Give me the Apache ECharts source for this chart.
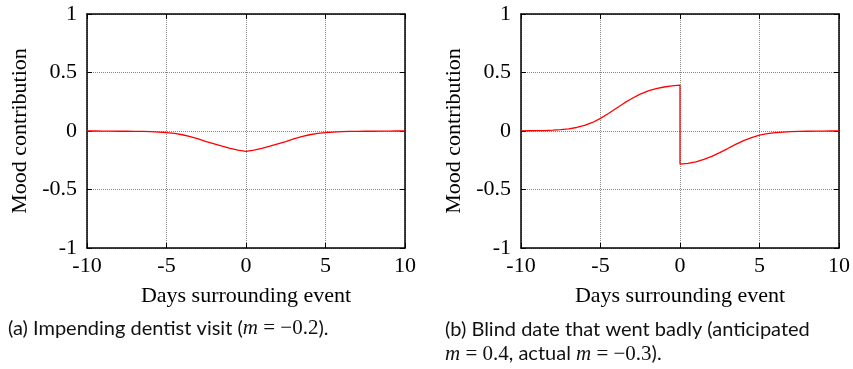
<!DOCTYPE html>
<html>

<head>
	<meta charset="UTF-8">
	<title></title>
	<style>
		body {
			margin: 0;
			background: #fff;
		}
		#chart {
			width: 853px;
			height: 369px;
		}
	</style>
	<script src="https://cdn.jsdelivr.net/npm/echarts@6/dist/echarts.min.js"></script>
</head>

<body>
	<div id="chart"></div>
	<script>
		var myChart = echarts.init(document.getElementById('chart'));

		// (a) dentist visit, m = -0.2
		var dentistX = [-10, -9.5, -9, -8.5, -8, -7.5, -7, -6.5, -6, -5.5, -5, -4.5, -4, -3.5, -3, -2.5, -2, -1.5, -1, -0.5,
			0, 0.5, 1, 1.5, 2, 2.5, 3, 3.5, 4, 4.5, 5, 5.5, 6, 6.5, 7, 7.5, 8, 8.5, 9, 9.5, 10];
		var dentistY = [0, 0, -0.001, -0.001, -0.002, -0.002, -0.003, -0.004, -0.006, -0.009, -0.013, -0.021, -0.032, -0.048, -0.068, -0.09, -0.11, -0.13, -0.148, -0.163,
			-0.175, -0.163, -0.148, -0.13, -0.11, -0.09, -0.068, -0.048, -0.032, -0.021, -0.013, -0.009, -0.006, -0.004, -0.003, -0.002, -0.002, -0.001, -0.001, 0, 0];

		// (b) blind date, anticipated 0.4, actual -0.3 (two points at day 0 for the drop)
		var dateX = [-10, -9.5, -9, -8.5, -8, -7.5, -7, -6.5, -6, -5.5, -5, -4.5, -4, -3.5, -3, -2.5, -2, -1.5, -1, -0.5,
			0, 0, 0.5, 1, 1.5, 2, 2.5, 3, 3.5, 4, 4.5, 5, 5.5, 6, 6.5, 7, 7.5, 8, 8.5, 9, 9.5, 10];
		var dateY = [0.001, 0.002, 0.003, 0.004, 0.007, 0.012, 0.019, 0.03, 0.048, 0.073, 0.108, 0.15, 0.195, 0.24, 0.28, 0.315, 0.343, 0.362, 0.376, 0.386,
			0.392, -0.284, -0.276, -0.263, -0.243, -0.217, -0.185, -0.15, -0.114, -0.082, -0.056, -0.036, -0.023, -0.014, -0.009, -0.005, -0.003, -0.002, -0.001, -0.001, 0, 0];

		var xTicks = { min: -10, max: 10, interval: 5 };
		var yTicks = { min: -1, max: 1, interval: 0.5 };

		var xName = 'Days surrounding event';
		var yName = 'Mood contribution';

		function pairs(xs, ys) {
			return xs.map(function (x, i) { return [x, ys[i]]; });
		}

		var serif = 'Liberation Serif';
		var black = { color: '#000', width: 1.5 };

		var option = {
			animation: false,
			grid: [
				{ left: 87, top: 14, width: 318, height: 234 },
				{ left: 521, top: 14, width: 318, height: 234 }
			],
			xAxis: [],
			yAxis: [],
			series: [],
			graphic: [
				{
					type: 'text', left: 8, top: 318,
					style: {
						text: '(a) Impending dentist visit ({m|m}{s| = −0.2}).',
						fontFamily: 'Lato', fontSize: 20, fill: '#111',
						rich: {
							m: { fontFamily: serif, fontStyle: 'italic', fontSize: 21 },
							s: { fontFamily: serif, fontSize: 21 }
						}
					}
				},
				{
					type: 'text', left: 445, top: 318,
					style: {
						text: '(b) Blind date that went badly (anticipated\n{m|m}{s| = 0.4}, actual {m|m}{s| = −0.3}).',
						fontFamily: 'Lato', fontSize: 20, fill: '#111', lineHeight: 24,
						rich: {
							m: { fontFamily: serif, fontStyle: 'italic', fontSize: 21, lineHeight: 24 },
							s: { fontFamily: serif, fontSize: 21, lineHeight: 24 }
						}
					}
				}
			]
		};

		[0, 1].forEach(function (g) {
			option.xAxis.push({
				gridIndex: g, type: 'value', position: 'bottom',
				min: xTicks.min, max: xTicks.max, interval: xTicks.interval,
				name: xName, nameLocation: 'middle', nameGap: 37,
				nameTextStyle: { fontFamily: serif, fontSize: 22, color: '#000' },
				axisLine: { show: true, onZero: false, lineStyle: black },
				axisTick: { show: true, inside: true, length: 5, lineStyle: { color: '#000' } },
				axisLabel: { fontFamily: serif, fontSize: 22, color: '#000', margin: 7 },
				splitLine: { show: true, lineStyle: { type: 'dotted', color: '#888', width: 1 } }
			});
			option.xAxis.push({
				gridIndex: g, type: 'value', position: 'top',
				min: xTicks.min, max: xTicks.max, interval: xTicks.interval,
				axisLine: { show: true, onZero: false, lineStyle: black },
				axisTick: { show: true, inside: true, length: 5, lineStyle: { color: '#000' } },
				axisLabel: { show: false },
				splitLine: { show: false }
			});
			option.yAxis.push({
				gridIndex: g, type: 'value', position: 'left',
				min: yTicks.min, max: yTicks.max, interval: yTicks.interval,
				name: yName, nameLocation: 'middle', nameGap: 56,
				nameTextStyle: { fontFamily: serif, fontSize: 22, color: '#000' },
				axisLine: { show: true, onZero: false, lineStyle: black },
				axisTick: { show: true, inside: true, length: 5, lineStyle: { color: '#000' } },
				axisLabel: { fontFamily: serif, fontSize: 22, color: '#000', margin: 10 },
				splitLine: { show: true, lineStyle: { type: 'dotted', color: '#888', width: 1 } }
			});
			option.yAxis.push({
				gridIndex: g, type: 'value', position: 'right',
				min: yTicks.min, max: yTicks.max, interval: yTicks.interval,
				axisLine: { show: true, onZero: false, lineStyle: black },
				axisTick: { show: true, inside: true, length: 5, lineStyle: { color: '#000' } },
				axisLabel: { show: false },
				splitLine: { show: false }
			});
		});

		option.series.push({
			type: 'line', xAxisIndex: 0, yAxisIndex: 0,
			data: pairs(dentistX, dentistY),
			showSymbol: false, lineStyle: { color: '#ff0000', width: 1.3 }
		});
		option.series.push({
			type: 'line', xAxisIndex: 2, yAxisIndex: 2,
			data: pairs(dateX, dateY),
			showSymbol: false, lineStyle: { color: '#ff0000', width: 1.3 }
		});

		myChart.setOption(option);
	</script>
</body>

</html>
